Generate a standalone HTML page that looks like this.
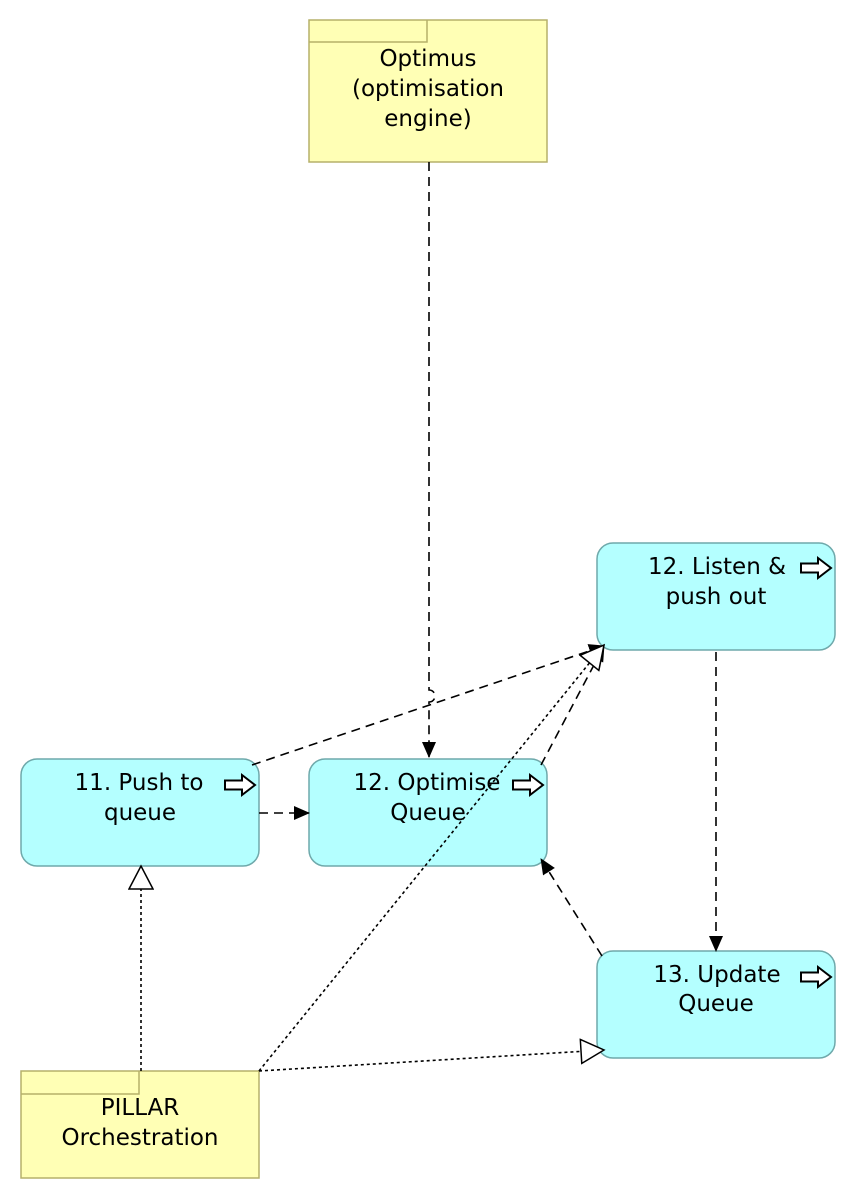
<!DOCTYPE html>
<html><head><style>body{margin:0;background:#fff}svg{display:block}text{font-family:"DejaVu Sans","Liberation Sans",sans-serif;font-size:23px;fill:#000}</style></head>
<body>
<svg width="856" height="1200" viewBox="0 0 856 1200" xmlns="http://www.w3.org/2000/svg">
<defs>
<marker id="f" markerWidth="16" markerHeight="14" refX="15" refY="7" orient="auto" markerUnits="userSpaceOnUse"><path d="M0,0 L16,7 L0,14 Z" fill="#000"/></marker>
<marker id="h" markerWidth="26" markerHeight="26" refX="24" refY="13" orient="auto" markerUnits="userSpaceOnUse"><path d="M1,1 L24,13 L1,25 Z" fill="#fff" stroke="#000" stroke-width="1.5"/></marker>
<g id="ic"><path d="M0,-4.5 L17,-4.5 L17,-10 L30,0 L17,10 L17,4.5 L0,4.5 Z" fill="#fff" stroke="#000" stroke-width="2"/></g>
</defs>
<rect x="309" y="20" width="238" height="142" fill="#ffffb5" stroke="#b5b06a" stroke-width="1.5"/>
<path d="M309,42 L427,42 L427,20" fill="none" stroke="#b5b06a" stroke-width="1.5"/>
<text x="428" y="66" text-anchor="middle">Optimus</text>
<text x="428" y="96" text-anchor="middle">(optimisation</text>
<text x="428" y="126" text-anchor="middle">engine)</text>
<rect x="21" y="1071" width="238" height="107" fill="#ffffb5" stroke="#b5b06a" stroke-width="1.5"/>
<path d="M21,1094 L139,1094 L139,1071" fill="none" stroke="#b5b06a" stroke-width="1.5"/>
<text x="140" y="1115" text-anchor="middle">PILLAR</text>
<text x="140" y="1145" text-anchor="middle">Orchestration</text>
<g fill="#b4ffff" stroke="#6fa9ab" stroke-width="1.5">
<rect x="21" y="759" width="238" height="107" rx="16"/>
<rect x="309" y="759" width="238" height="107" rx="16"/>
<rect x="597" y="543" width="238" height="107" rx="16"/>
<rect x="597" y="951" width="238" height="107" rx="16"/>
</g>
<text x="139" y="790" text-anchor="middle">11. Push to</text><text x="140" y="820" text-anchor="middle">queue</text>
<text x="427" y="790" text-anchor="middle">12. Optimise</text><text x="428" y="820" text-anchor="middle">Queue</text>
<text x="717" y="574" text-anchor="middle">12. Listen &amp;</text><text x="716" y="604" text-anchor="middle">push out</text>
<text x="717" y="982" text-anchor="middle">13. Update</text><text x="716" y="1011" text-anchor="middle">Queue</text>
<use href="#ic" x="225" y="785"/><use href="#ic" x="513" y="785"/><use href="#ic" x="801" y="568"/><use href="#ic" x="801" y="977"/>
<g fill="none" stroke="#000" stroke-width="1.6" stroke-dasharray="9,6">
<path d="M429,162 L429,690 A6,6 0 0 1 429,702 L429,757" marker-end="url(#f)"/>
<path d="M252,765 L604,646" marker-end="url(#f)"/>
<path d="M259,813 L309,813" marker-end="url(#f)"/>
<path d="M541,765 L604,646" marker-end="url(#f)"/>
<path d="M602,956 L541,859" marker-end="url(#f)"/>
<path d="M716,652 L716,951" marker-end="url(#f)"/>
</g>
<g fill="none" stroke="#000" stroke-width="1.6" stroke-dasharray="3,3">
<path d="M141,1071 L141,866" marker-end="url(#h)"/>
<path d="M259,1071 L604,645" marker-end="url(#h)"/>
<path d="M259,1071 L604,1050" marker-end="url(#h)"/>
</g>
</svg>
</body></html>
